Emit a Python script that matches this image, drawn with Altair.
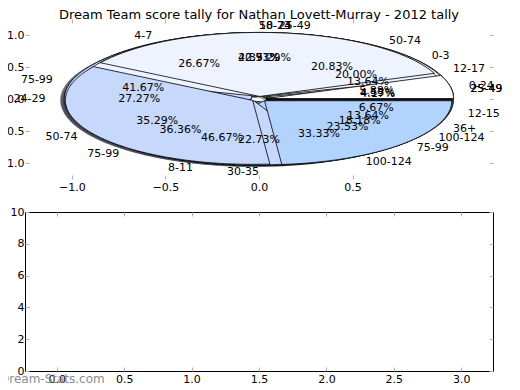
import math
import altair as alt
import pandas as pd

title_text = "Dream Team score tally for Nathan Lovett-Murray - 2012 tally"
watermark_text = "Dream-Stats.com"

# pies drawn on top of each other (draw order A, C, D, F, E)
pie_a_labels = ["0-3", "4-7", "8-11", "12-15"]
pie_a_values = [3, 4, 7, 1]
pie_c_labels = ["12-17", "18-23", "24-29", "30-35", "36+"]
pie_c_values = [3, 5, 6, 5, 3]
pie_d_labels = ["25-49", "50-74", "75-99", "100-124"]
pie_d_values = [1, 5, 10, 8]
pie_f_labels = ["25-49", "50-74", "75-99", "100-124"]
pie_f_values = [1, 9, 8, 4]
pie_e_labels = ["0-24", "25-49", "50-74", "75-99"]
pie_e_values = [1, 6, 6, 4]

slice_colors = ["#ffffff", "#eef3ff", "#c6d8fc", "#b3d3ff", "#dce7ff"]

pie_ticks_x = [-1.0, -0.5, 0.0, 0.5]
pie_ticks_y = [-1.0, -0.5, 0.0, 0.5, 1.0]
bar_ticks_x = [0.0, 0.5, 1.0, 1.5, 2.0, 2.5, 3.0]
bar_ticks_y = [0, 2, 4, 6, 8, 10]

EXPLODE = 0.04
SHADOW = -0.022
LABEL_DIST = 1.1
PCT_DIST = 0.6

pies = [
    (pie_a_labels, pie_a_values),
    (pie_c_labels, pie_c_values),
    (pie_d_labels, pie_d_values),
    (pie_f_labels, pie_f_values),
    (pie_e_labels, pie_e_values),
]


def shade(h):
    h = h.lstrip("#")
    r, g, b = (int(h[i:i + 2], 16) for i in (0, 2, 4))
    return "#%02x%02x%02x" % (int(r * 0.3), int(g * 0.3), int(b * 0.3))


poly_rows, shadow_rows, text_rows = [], [], []
z = 0
for labels, values in pies:
    total = float(sum(values))
    start = 0.0
    for i, (lab, v) in enumerate(zip(labels, values)):
        span = 360.0 * v / total
        t1 = start
        start += span
        tm = math.radians(t1 + span / 2)
        cx, cy = EXPLODE * math.cos(tm), EXPLODE * math.sin(tm)
        color = slice_colors[i % len(slice_colors)]
        key = "%03d" % z
        pts = [(cx, cy)]
        n = max(2, int(math.ceil(span)) + 1)
        for k in range(n):
            a = math.radians(t1 + span * k / (n - 1))
            pts.append((cx + math.cos(a), cy + math.sin(a)))
        for j, (px, py) in enumerate(pts):
            poly_rows.append(dict(key=key, idx=j, x=px, y=py, fill=color))
            shadow_rows.append(dict(key=key, idx=j, x=px + SHADOW, y=py + SHADOW,
                                    fill=shade(color)))
        lx = cx + LABEL_DIST * math.cos(tm)
        ly = cy + LABEL_DIST * math.sin(tm)
        text_rows.append(dict(x=lx, y=ly, text=lab, align="left" if lx > 0 else "right"))
        text_rows.append(dict(x=cx + PCT_DIST * math.cos(tm), y=cy + PCT_DIST * math.sin(tm),
                              text="%.2f%%" % (100.0 * v / total), align="center"))
        z += 1

poly_df = pd.DataFrame(poly_rows)
shadow_df = pd.DataFrame(shadow_rows)
text_df = pd.DataFrame(text_rows)

FONT = "DejaVu Sans"
TICK = "#b0b0b0"
xs = alt.Scale(domain=[-1.25, 1.25], nice=False, zero=False)
ys = alt.Scale(domain=[-1.25, 1.25], nice=False, zero=False)


def ax(orient, values, labels=True, fmt=".1f"):
    pad = 1 if orient in ("left", "right") else 2
    kw = dict(orient=orient, values=values, offset=-4, tickSize=4, domain=False,
              grid=False, title=None, tickColor=TICK, labels=labels,
              labelFont=FONT, labelFontSize=11, labelColor="black", labelPadding=pad)
    if labels:
        kw["format"] = fmt
    return alt.Axis(**kw)


shadows = alt.Chart(shadow_df).mark_line(interpolate="linear-closed", strokeOpacity=0,
                                         fillOpacity=0.5).encode(
    x=alt.X("x:Q", scale=xs, axis=ax("top", pie_ticks_x, labels=False)),
    y=alt.Y("y:Q", scale=ys, axis=ax("right", pie_ticks_y, labels=False)),
    fill=alt.Fill("fill:N", scale=None),
    detail="key:N",
    order="idx:Q",
)

wedges = alt.Chart(poly_df).mark_line(interpolate="linear-closed", stroke="black",
                                      strokeWidth=0.8).encode(
    x=alt.X("x:Q", scale=xs, axis=ax("bottom", pie_ticks_x)),
    y=alt.Y("y:Q", scale=ys, axis=ax("left", pie_ticks_y)),
    fill=alt.Fill("fill:N", scale=None),
    detail="key:N",
    order="idx:Q",
)


def text_layer(align):
    return alt.Chart(text_df).transform_filter(alt.datum.align == align).mark_text(
        align=align, baseline="middle", font=FONT, fontSize=11, color="black"
    ).encode(
        x=alt.X("x:Q", scale=xs, axis=None),
        y=alt.Y("y:Q", scale=ys, axis=None),
        text="text:N",
    )


top = alt.layer(
    shadows, wedges, text_layer("left"), text_layer("right"), text_layer("center")
).resolve_axis(x="independent", y="independent").properties(
    width=468, height=160,
    title=alt.Title(title_text, font=FONT, fontSize=13, fontWeight="normal",
                    color="black", offset=-3),
    view=alt.ViewBackground(strokeWidth=0),
)

frame_df = pd.DataFrame({"x": bar_ticks_x, "y": [bar_ticks_y[0]] * len(bar_ticks_x)})
bxs = alt.Scale(domain=[-0.236, 3.236], nice=False, zero=False)
bys = alt.Scale(domain=[0, 10], nice=False, zero=False)

b_low = alt.Chart(frame_df).mark_point(opacity=0).encode(
    x=alt.X("x:Q", scale=bxs, axis=ax("bottom", bar_ticks_x)),
    y=alt.Y("y:Q", scale=bys, axis=ax("left", bar_ticks_y, fmt="d")),
)
b_high = alt.Chart(frame_df).mark_point(opacity=0).encode(
    x=alt.X("x:Q", scale=bxs, axis=ax("top", bar_ticks_x, labels=False)),
    y=alt.Y("y:Q", scale=bys, axis=ax("right", bar_ticks_y, labels=False)),
)
wm = alt.Chart(pd.DataFrame({"t": [watermark_text]})).mark_text(
    align="left", baseline="middle", font=FONT, fontSize=12, color="#8c8c8c"
).encode(x=alt.value(-25), y=alt.value(167), text="t:N")

bottom = alt.layer(b_low, b_high, wm).resolve_axis(
    x="independent", y="independent").properties(
    width=468, height=159,
    view=alt.ViewBackground(stroke="black", strokeWidth=1),
)

chart = alt.vconcat(top, bottom, spacing=13).properties(
    padding={"left": -11, "top": 0, "right": 0, "bottom": 0},
    background="white",
)

chart.save("out.html", embed_options={"renderer": "svg", "actions": False})
